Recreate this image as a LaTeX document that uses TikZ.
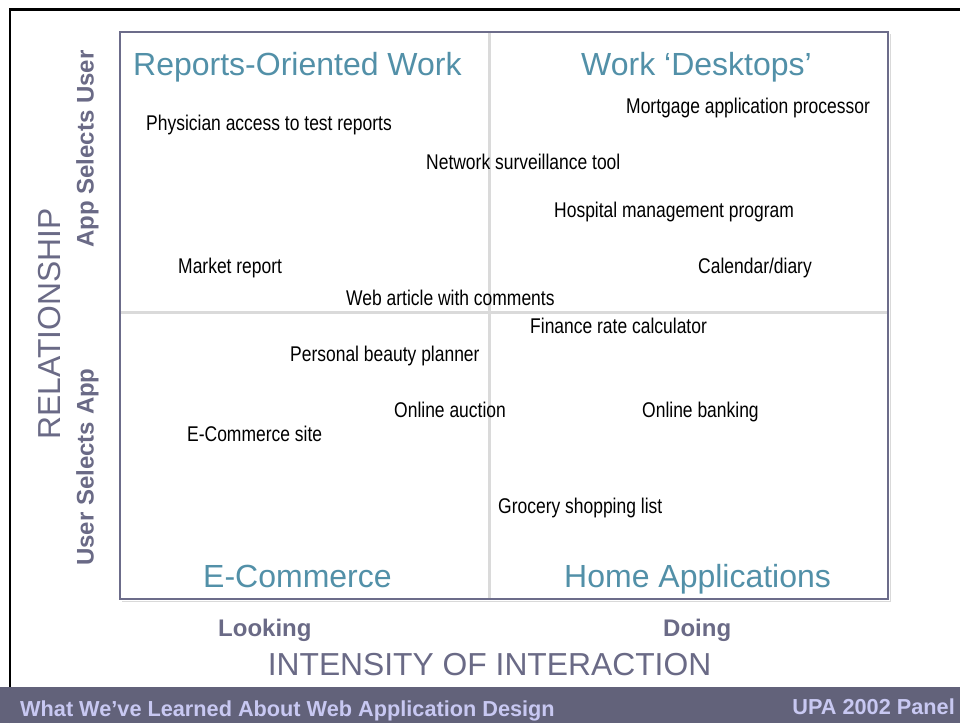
\documentclass[tikz,border=0pt]{standalone}
\usepackage{fontspec}
\setmainfont{Liberation Sans}
\newfontfamily\narrowsans[FakeStretch=0.82]{Liberation Sans}
\definecolor{framegray}{HTML}{6C6C8A}
\definecolor{axisgray}{HTML}{6A6A86}
\definecolor{quadteal}{HTML}{5290A8}
\definecolor{divgray}{HTML}{DADADA}
\definecolor{footbg}{HTML}{62627A}
\definecolor{foottext}{HTML}{C8C8F2}
\tikzset{
  item/.style={anchor=base west, inner sep=0pt, font=\narrowsans\fontsize{21.3}{24}\selectfont},
  quadlabel/.style={anchor=base west, inner sep=0pt, text=quadteal, font=\fontsize{32}{36}\selectfont},
  axisbig/.style={inner sep=0pt, text=axisgray, font=\fontsize{31.8}{36}\selectfont},
  axissmall/.style={inner sep=0pt, text=axisgray, font=\fontsize{24}{28}\selectfont\bfseries},
  foot/.style={inner sep=0pt, text=foottext, font=\fontsize{21.7}{26}\selectfont\bfseries},
}
\begin{document}
\begin{tikzpicture}[x=1pt, y=-1pt]
\useasboundingbox (0,0) rectangle (960,723);
\fill[white] (0,0) rectangle (960,723);

% slide frame
\draw[black, line width=2.2pt] (10,723) -- (10,9.5) -- (960,9.5);

% footer bar
\fill[footbg] (0,687) rectangle (960,723);
\node[foot, anchor=base west] (footl) at (20,716.8) {What We’ve Learned About Web Application Design};
\node[foot, anchor=base east] (footr) at (955,714.6) {UPA 2002 Panel};

% quadrant dividers
\coordinate (vt) at (489,32);
\coordinate (vb) at (489,599);
\coordinate (hl) at (120,312);
\coordinate (hr) at (888,312);
\draw[divgray, line width=3pt] (vt) -- (vb);
\draw[divgray, line width=3pt] (hl) -- (hr);

% plot frame with a faint shadow
\draw[gray!30, line width=1.2pt] (122,601.5) -- (890.5,601.5) -- (890.5,34);
\draw[framegray, line width=2.6pt] (120,32) rectangle (888,599);

% quadrant titles
\node[quadlabel] (q1) at (133,75) {Reports-Oriented Work};
\node[quadlabel] (q2) at (581,75) {Work ‘Desktops’};
\node[quadlabel] (q3) at (203,587) {E-Commerce};
\node[quadlabel] (q4) at (564,587) {Home Applications};

% applications
\node[item] (mort) at (626,113.7) {Mortgage application processor};
\node[item] (phys) at (146,130.7) {Physician access to test reports};
\node[item] (netw) at (426,169.7) {Network surveillance tool};
\node[item] (hosp) at (554,217.7) {Hospital management program};
\node[item] (mark) at (178,273.7) {Market report};
\node[item] (cal)  at (698,273.7) {Calendar/diary};
\node[item] (web)  at (346,305.7) {Web article with comments};
\node[item] (fin)  at (530,333.7) {Finance rate calculator};
\node[item] (pers) at (290,361.7) {Personal beauty planner};
\node[item] (auct) at (394,417.7) {Online auction};
\node[item] (bank) at (642,417.7) {Online banking};
\node[item] (ecom) at (187,441.7) {E-Commerce site};
\node[item] (groc) at (498,513.7) {Grocery shopping list};

% axes
\node[axisbig, rotate=90, anchor=mid] (rel) at (58,324) {RELATIONSHIP};
\node[axissmall, rotate=90, anchor=mid] (asu) at (91,149) {App Selects User};
\node[axissmall, rotate=90, anchor=mid] (usa) at (91,467) {User Selects App};
\node[axissmall, anchor=base west] (look) at (218,636.6) {Looking};
\node[axissmall, anchor=base west] (doing) at (663,636.6) {Doing};
\node[axisbig, anchor=base] (intens) at (489.5,675) {INTENSITY OF INTERACTION};
\end{tikzpicture}
\end{document}
